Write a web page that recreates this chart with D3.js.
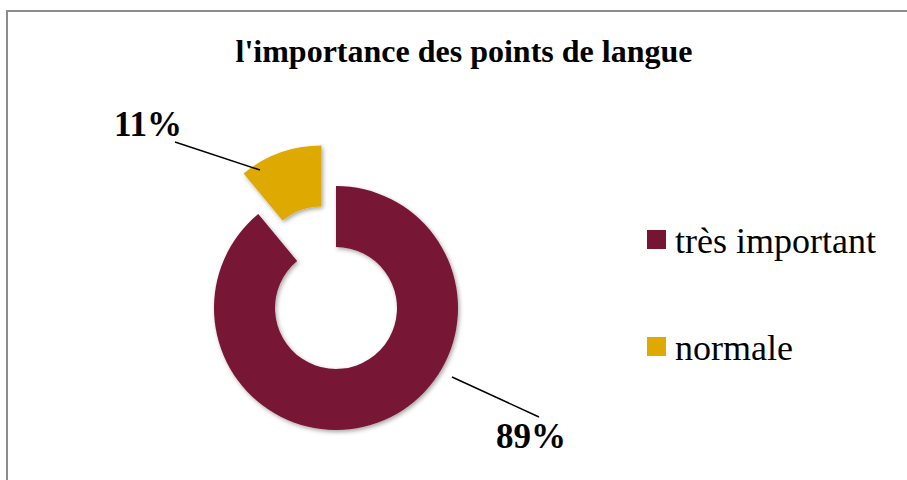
<!DOCTYPE html>
<html lang="fr">
<head>
    <meta charset="UTF-8">
    <title>l'importance des points de langue</title>
    <script src="https://d3js.org/d3.v7.min.js"></script>
    <style>
        body { margin: 0; background: #fff; }
        svg { display: block; }
        svg text { font-family: "Liberation Serif", "DejaVu Serif", serif; }
    </style>
</head>
<body>
    <div id="chart"></div>

    <script>
        const categories = ["très important", "normale"];
        const values = [89, 11];
        const labels = ["89%", "11%"];
        const colors = ["#771434", "#dea900"];

        const W = 907, H = 480;
        const svg = d3.select("#chart").append("svg").attr("width", W).attr("height", H);

        // frame (only top and left edges visible in the picture)
        svg.append("path")
            .attr("d", `M7,${H} V11 H${W}`)
            .attr("fill", "none")
            .attr("stroke", "#8c8c8c")
            .attr("stroke-width", 2);

        svg.append("text")
            .attr("x", 464).attr("y", 62)
            .attr("text-anchor", "middle")
            .attr("font-size", 32).attr("font-weight", "bold")
            .text("l'importance des points de langue");

        const defs = svg.append("defs");
        const f = defs.append("filter").attr("id", "shadow")
            .attr("x", "-20%").attr("y", "-20%").attr("width", "140%").attr("height", "140%");
        f.append("feDropShadow").attr("dx", 1.5).attr("dy", 2).attr("stdDeviation", 2)
            .attr("flood-color", "#000").attr("flood-opacity", 0.35);

        const cx = 336, cy = 308, outerR = 122, innerR = 61, explode = 43;

        const pie = d3.pie().sort(null).value(d => d.value);
        const arcs = pie(categories.map((c, i) => ({ name: c, value: values[i], color: colors[i], label: labels[i] })));
        const arc = d3.arc().innerRadius(innerR).outerRadius(outerR);

        const g = svg.append("g").attr("transform", `translate(${cx},${cy})`);

        g.selectAll("path.slice")
            .data(arcs)
            .enter().append("path")
            .attr("class", "slice")
            .attr("d", arc)
            .attr("fill", d => d.data.color)
            .attr("filter", "url(#shadow)")
            .attr("transform", d => {
                if (d.data.name !== "normale") return null;
                const a = (d.startAngle + d.endAngle) / 2;
                return `translate(${Math.sin(a) * explode},${-Math.cos(a) * explode})`;
            });

        // data labels with leader lines
        const labelPos = {
            "très important": { line: [[452, 377], [539, 417]], text: [531, 448] },
            "normale": { line: [[260, 170], [175, 142]], text: [148, 136] }
        };

        arcs.forEach(d => {
            const p = labelPos[d.data.name];
            svg.append("line")
                .attr("x1", p.line[0][0]).attr("y1", p.line[0][1])
                .attr("x2", p.line[1][0]).attr("y2", p.line[1][1])
                .attr("stroke", "#000").attr("stroke-width", 1.5);
            svg.append("text")
                .attr("x", p.text[0]).attr("y", p.text[1])
                .attr("text-anchor", "middle")
                .attr("font-size", 35).attr("font-weight", "bold")
                .text(d.data.label);
        });

        // legend
        const legend = svg.append("g").attr("transform", "translate(647,230)");
        const item = legend.selectAll("g")
            .data(categories)
            .enter().append("g")
            .attr("transform", (d, i) => `translate(0,${i * 107})`);
        item.append("rect")
            .attr("width", 19).attr("height", 19)
            .attr("fill", (d, i) => colors[i]);
        item.append("text")
            .attr("x", 28).attr("y", 23)
            .attr("font-size", 36)
            .text(d => d);
    </script>
</body>
</html>
